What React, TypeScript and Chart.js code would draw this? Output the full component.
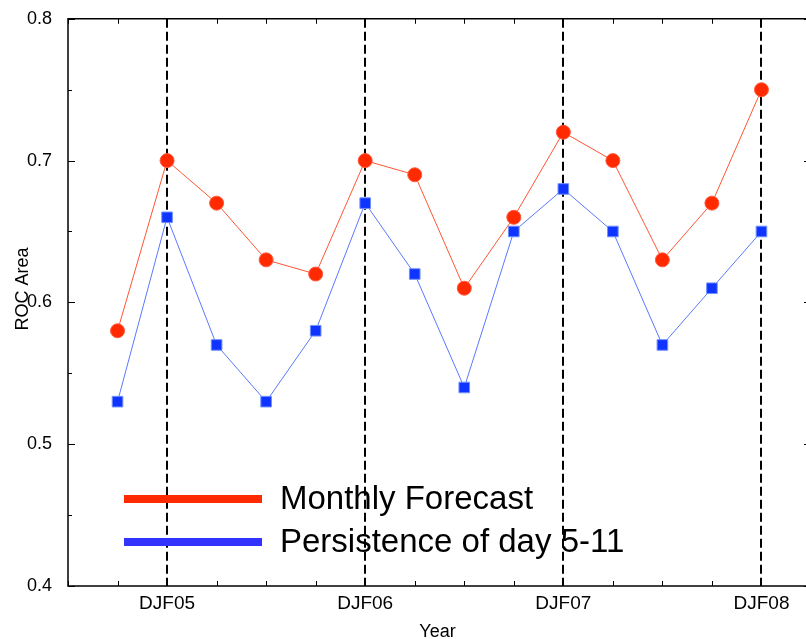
import React, { useEffect, useRef } from "react";
import { Chart, registerables } from "chart.js";

Chart.register(...registerables);

const xIndex = [0, 1, 2, 3, 4, 5, 6, 7, 8, 9, 10, 11, 12, 13];
const monthlyForecast = [0.58, 0.70, 0.67, 0.63, 0.62, 0.70, 0.69, 0.61, 0.66, 0.72, 0.70, 0.63, 0.67, 0.75];
const persistence = [0.53, 0.66, 0.57, 0.53, 0.58, 0.67, 0.62, 0.54, 0.65, 0.68, 0.65, 0.57, 0.61, 0.65];
const seasonTicks = [1, 5, 9, 13];
const seasonLabels = ["DJF05", "DJF06", "DJF07", "DJF08"];
const yTicks = [0.4, 0.5, 0.6, 0.7, 0.8];
const seriesNames = ["Monthly Forecast", "Persistence of day 5-11"];

const FONT = "'Liberation Sans', Arial, Helvetica, sans-serif";
const SHIFT = 8;

const framePlugin = {
  id: "frame",
  beforeDatasetsDraw(chart: any) {
    const { ctx, chartArea, scales } = chart;
    const x = scales.x;
    ctx.save();
    ctx.strokeStyle = "#000";
    ctx.lineWidth = 2;
    ctx.setLineDash([9, 4]);
    seasonTicks.forEach((t) => {
      const px = Math.round(x.getPixelForValue(t));
      ctx.beginPath();
      ctx.moveTo(px, chartArea.top);
      ctx.lineTo(px, chartArea.bottom);
      ctx.stroke();
    });
    ctx.setLineDash([]);
    ctx.restore();
  },
  afterDraw(chart: any) {
    const { ctx, chartArea, scales } = chart;
    const x = scales.x;
    const y = scales.y;
    const { left, right, top, bottom } = chartArea;
    ctx.save();
    ctx.strokeStyle = "#000";
    ctx.lineWidth = 1.5;
    ctx.beginPath();
    ctx.moveTo(left, top);
    ctx.lineTo(right, top);
    ctx.lineTo(right, bottom);
    ctx.lineTo(left, bottom);
    ctx.closePath();
    ctx.stroke();
    ctx.lineWidth = 1;
    for (let i = -1; i <= 14; i++) {
      const px = Math.round(x.getPixelForValue(i)) + 0.5;
      ctx.beginPath();
      ctx.moveTo(px, bottom);
      ctx.lineTo(px, bottom - 5);
      ctx.moveTo(px, top);
      ctx.lineTo(px, top + 5);
      ctx.stroke();
    }
    for (let v = 0.4; v <= 0.8001; v += 0.05) {
      const major = Math.abs(Math.round(v * 10) - v * 10) < 1e-6;
      const len = major ? 7 : 4;
      const py = Math.round(y.getPixelForValue(v)) + 0.5;
      ctx.beginPath();
      ctx.moveTo(left, py);
      ctx.lineTo(left + len, py);
      ctx.moveTo(right, py);
      ctx.lineTo(right - len, py);
      ctx.stroke();
    }
    ctx.fillStyle = "#000";
    ctx.font = `18px ${FONT}`;
    ctx.textAlign = "center";
    ctx.textBaseline = "alphabetic";
    ctx.fillText("Year", (left + right) / 2 - 2, 637 + SHIFT);
    ctx.save();
    ctx.translate(28, 289 + SHIFT);
    ctx.rotate(-Math.PI / 2);
    ctx.fillText("ROC Area", 0, 0);
    ctx.restore();
    const ds = chart.data.datasets;
    const legendColors = ["#ff2a00", "#3333ff"];
    const rows = [499, 542];
    const baselines = [509, 552];
    ds.forEach((d: any, i: number) => {
      ctx.fillStyle = legendColors[i];
      ctx.fillRect(124, rows[i] - 4 + SHIFT, 138, 8);
      ctx.fillStyle = "#000";
      ctx.font = `33px ${FONT}`;
      ctx.textAlign = "left";
      ctx.fillText(d.label, 280, baselines[i] + SHIFT);
    });
    ctx.restore();
  },
};

export default function App() {
  const ref = useRef<HTMLCanvasElement | null>(null);
  useEffect(() => {
    if (!ref.current) return;
    const chart = new Chart(ref.current, {
      type: "line",
      data: {
        datasets: [
          {
            label: seriesNames[0],
            data: xIndex.map((xv, i) => ({ x: xv, y: monthlyForecast[i] })),
            borderColor: "#ff5533",
            borderWidth: 1,
            backgroundColor: "#ff2a00",
            pointBackgroundColor: "#ff2a00",
            pointBorderColor: "#ff5a40",
            pointBorderWidth: 1,
            pointRadius: 7,
            pointStyle: "circle",
            tension: 0,
          },
          {
            label: seriesNames[1],
            data: xIndex.map((xv, i) => ({ x: xv, y: persistence[i] })),
            borderColor: "#5a78ff",
            borderWidth: 1,
            backgroundColor: "#1034ff",
            pointBackgroundColor: "#1034ff",
            pointBorderColor: "#7090ff",
            pointBorderWidth: 1,
            pointRadius: 7.5,
            pointStyle: "rect",
            tension: 0,
          },
        ],
      },
      options: {
        animation: false,
        responsive: false,
        maintainAspectRatio: false,
        layout: { padding: { left: 0, top: 10, right: 19, bottom: 0 } },
        plugins: { legend: { display: false }, tooltip: { enabled: false } },
        scales: {
          x: {
            type: "linear",
            min: -1,
            max: 14,
            afterFit(scale: any) {
              scale.height = 53;
            },
            afterBuildTicks(scale: any) {
              scale.ticks = seasonTicks.map((v) => ({ value: v }));
            },
            grid: { display: false, drawTicks: false },
            border: { display: false },
            ticks: {
              autoSkip: false,
              maxRotation: 0,
              padding: 6,
              color: "#000",
              font: { family: FONT, size: 19 },
              callback: (v: any) => {
                const k = seasonTicks.indexOf(Number(v));
                return k >= 0 ? seasonLabels[k] : "";
              },
            },
          },
          y: {
            type: "linear",
            min: 0.4,
            max: 0.8,
            afterFit(scale: any) {
              scale.width = 68;
            },
            afterBuildTicks(scale: any) {
              scale.ticks = yTicks.map((v) => ({ value: v }));
            },
            grid: { display: false, drawTicks: false },
            border: { display: false },
            ticks: {
              padding: 16,
              color: "#000",
              font: { family: FONT, size: 18 },
              callback: (v: any) => Number(v).toFixed(1),
            },
          },
        },
      },
      plugins: [framePlugin],
    });
    return () => chart.destroy();
  }, []);
  return (
    <div style={{ position: "absolute", left: 0, top: 0, width: 806, height: 639, overflow: "hidden", background: "#fff" }}>
      <canvas
        ref={ref}
        width={830}
        height={639 + SHIFT}
        style={{ display: "block", position: "absolute", left: 0, top: -SHIFT, width: 830, height: 639 + SHIFT }}
      />
    </div>
  );
}
